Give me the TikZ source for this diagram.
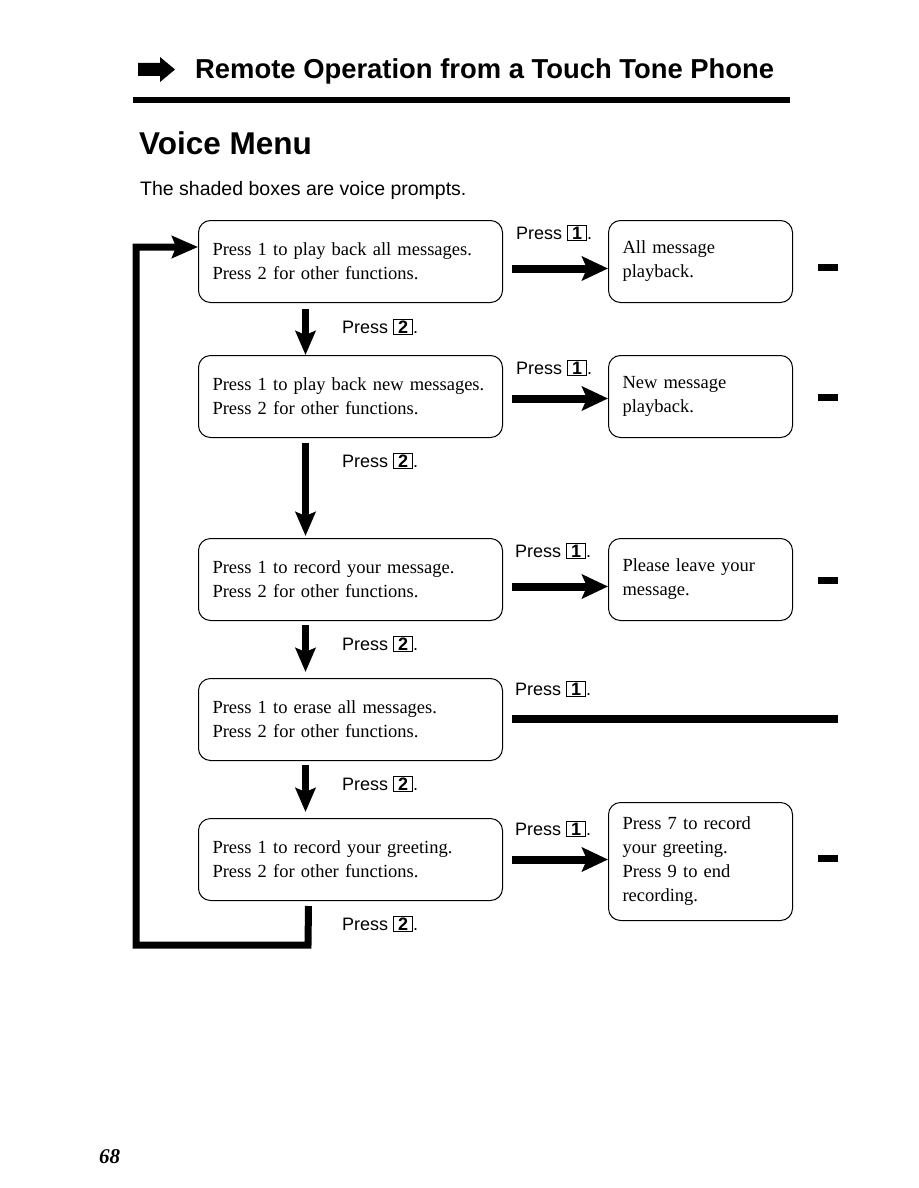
\documentclass[tikz,border=0pt]{standalone}
\usepackage{fontspec}
\setmainfont{Liberation Serif}
\setsansfont{Liberation Sans}
\usetikzlibrary{arrows.meta}
\newcommand{\keycap}[1]{{\setlength{\fboxsep}{0.8pt}\setlength{\fboxrule}{1.2pt}\fbox{\bfseries\,#1\,}}}
\newcommand{\pressone}{Press \keycap{1}.}
\newcommand{\presstwo}{Press \keycap{2}.}
\tikzset{
  vbox/.style={draw, line width=1pt, rounded corners=12pt, align=left, inner xsep=14pt,
    font=\fontsize{18.5}{24}\selectfont, minimum height=82pt, anchor=north west},
  lbox/.style={vbox, text width=276pt},
  rbox/.style={vbox, text width=156pt},
  plabel/.style={font=\sffamily\fontsize{18}{20}\selectfont, anchor=west, inner sep=0pt},
  harrow/.style={line width=8pt, -{Stealth[length=26pt,width=24pt,inset=5pt]}},
  varrow/.style={line width=7pt, -{Stealth[length=24pt,width=20pt,inset=4pt]}},
  bar/.style={line width=7pt},
}
\begin{document}
\begin{tikzpicture}[x=1pt,y=-1pt]
\useasboundingbox (0,0) rectangle (918,1188);
% header
\fill (138,63) -- (160,63) -- (160,57) -- (175,69.5) -- (160,82) -- (160,76) -- (138,76) -- cycle;
\node[anchor=base west, inner sep=0pt, font=\sffamily\bfseries\fontsize{27.4}{30}\selectfont] (title) at (195,79) {Remote Operation from a Touch Tone Phone};
\fill (133,97) rectangle (790,103);
\node[anchor=base west, inner sep=0pt, font=\sffamily\bfseries\fontsize{31.5}{36}\selectfont] (vm) at (139,154) {Voice Menu};
\node[anchor=base west, inner sep=0pt, font=\sffamily\fontsize{19.5}{22}\selectfont] (sub) at (140,195) {The shaded boxes are voice prompts.};
% left boxes
\node[lbox] (L1) at (198,220) {Press 1 to play back all messages.\\Press 2 for other functions.};
\node[lbox] (L2) at (198,355) {Press 1 to play back new messages.\\Press 2 for other functions.};
\node[lbox] (L3) at (198,538) {Press 1 to record your message.\\Press 2 for other functions.};
\node[lbox] (L4) at (198,678) {Press 1 to erase all messages.\\Press 2 for other functions.};
\node[lbox] (L5) at (198,818) {Press 1 to record your greeting.\\Press 2 for other functions.};
% right boxes
\node[rbox] (R1) at (608,220) {All message\\playback.};
\node[rbox] (R2) at (608,355) {New message\\playback.};
\node[rbox] (R3) at (608,538) {Please leave your\\message.};
\node[rbox, minimum height=118pt] (R5) at (608,802) {Press 7 to record\\your greeting.\\Press 9 to end\\recording.};
% Press 1 labels
\node[plabel] (p1a) at (516,233) {\pressone};
\node[plabel] (p1b) at (516,368) {\pressone};
\node[plabel] (p1c) at (515,551) {\pressone};
\node[plabel] (p1d) at (515,689) {\pressone};
\node[plabel] (p1e) at (515,829) {\pressone};
% Press 2 labels
\node[plabel] (p2a) at (342,327) {\presstwo};
\node[plabel] (p2b) at (342,461) {\presstwo};
\node[plabel] (p2c) at (342,644) {\presstwo};
\node[plabel] (p2d) at (342,784) {\presstwo};
\node[plabel] (p2e) at (342,924) {\presstwo};
% horizontal arrows
\draw[harrow] ([shift={(9,7)}]L1.east) -- ([shift={(0,7)}]R1.west);
\draw[harrow] ([shift={(9,2)}]L2.east) -- ([shift={(0,2)}]R2.west);
\draw[harrow] ([shift={(9,7)}]L3.east) -- ([shift={(0,7)}]R3.west);
\draw[harrow] ([shift={(9,0)}]L5.east) -- (L5.east -| R5.west);
\draw[line width=8pt] ([shift={(9,-1)}]L4.east) -- ([shift={(0,-1)}]L4.east -| R1.east) -- ++(45,0) coordinate (eraseEnd);
% bars
\draw[bar] ([shift={(25,6)}]R1.east) -- ++(20,0);
\draw[bar] ([shift={(25,1)}]R2.east) -- ++(20,0);
\draw[bar] ([shift={(25,1)}]R3.east) -- ++(20,0);
\draw[bar] ([shift={(25,-3)}]R5.east) -- ++(20,0);
% vertical arrows
\draw[varrow] ([shift={(-45,6)}]L1.south) -- ([shift={(-45,0)}]L2.north);
\draw[varrow] ([shift={(-45,5)}]L2.south) -- ([shift={(-45,-2)}]L3.north);
\draw[varrow] ([shift={(-45,4)}]L3.south) -- ([shift={(-45,-6)}]L4.north);
\draw[varrow] ([shift={(-45,4)}]L4.south) -- ([shift={(-45,-6)}]L5.north);
% loop back
\coordinate (c1) at (308,945);
\coordinate (c2) at (136,945);
\coordinate (c3) at (136,247);
\draw[line width=7pt, line join=miter, -{Stealth[length=26pt,width=22pt,inset=4pt]}]
  ([shift={(-42,5)}]L5.south) -- (c1) -- (c2) -- (c3) -- (L1.west |- c3);
% page number
\node[anchor=base west, inner sep=0pt, font=\bfseries\itshape\fontsize{21}{24}\selectfont] (pg) at (99,1163) {68};
\end{tikzpicture}
\end{document}
